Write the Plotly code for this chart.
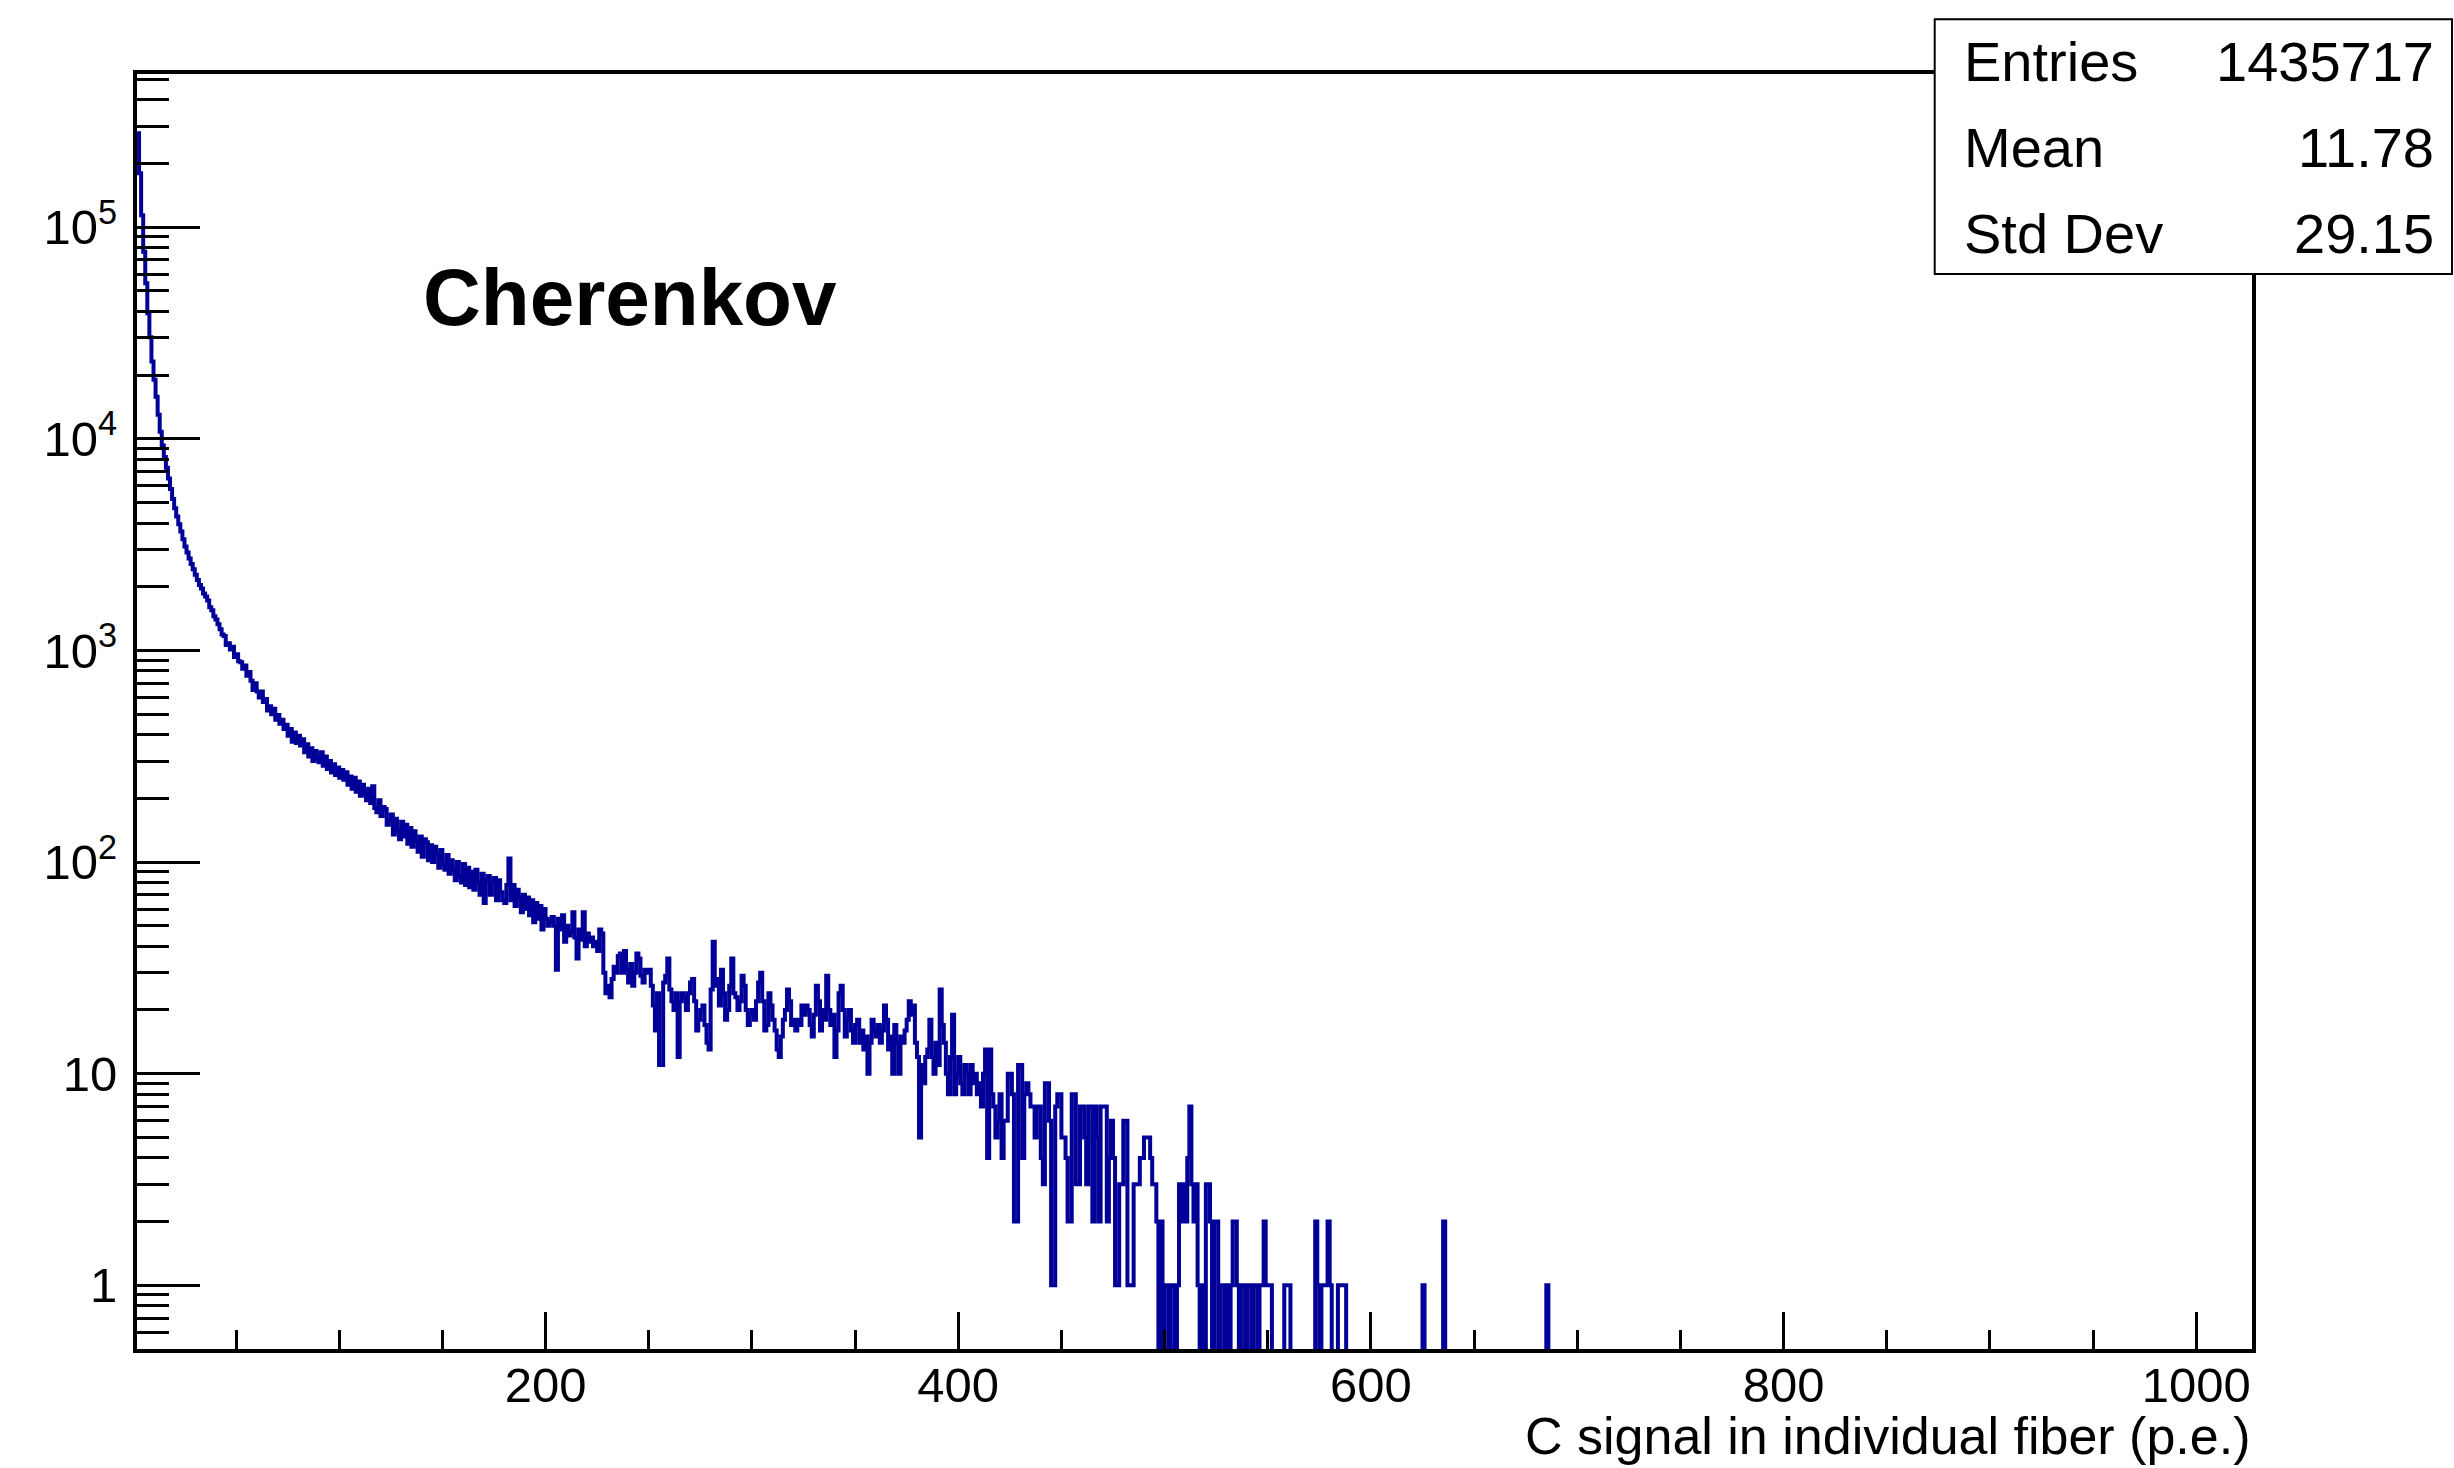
import numpy as np
import plotly.graph_objects as go

# ---------------- data (histogram of 1-p.e.-wide bins, lower edges 2 .. 1026) ----------------
x_min, x_max = 2, 1027
bin_width = 1

counts_a = [278000, 180000, 114000, 76600, 54300, 39200, 30200, 23200, 19000, 15800,
            13000, 10800, 9300, 8200, 7300, 6500, 5800, 5200, 4700, 4300,
            3950, 3650, 3350, 3100, 2900, 2720, 2560, 2420, 2280, 2150,
            2040, 1960, 1860, 1800, 1720, 1600, 1550, 1450, 1400, 1330]          # bins 2-41
counts_b = [1260, 1190, 1170, 1060, 1080, 1010, 1040, 930, 960, 890,
            880, 820, 850, 760, 790, 720, 650, 700, 640, 600,
            640, 570, 590, 520, 545, 500, 530, 470, 495, 450,
            470, 425, 445, 395, 425, 370, 410, 365, 395, 355,
            380, 330, 360, 315, 345, 300, 335, 310, 296, 330,
            285, 315, 275, 300, 265, 290, 258, 280, 250, 272,
            245, 266, 232, 254, 222, 250, 215, 240, 206, 232,
            212, 196, 222, 190, 228, 180, 172, 196, 165, 182]                      # bins 42-121
counts_c = [178, 150, 158, 168, 135, 160, 142, 128, 155, 132,
            150, 122, 145, 118, 140, 126, 112, 132, 106, 128,
            124, 102, 120, 100, 118, 108, 94, 114, 98, 92,
            108, 88, 102, 92, 82, 100, 86, 80, 98, 78,
            94, 76, 90, 74, 92, 80, 70, 88, 64, 82,
            86, 70, 80, 84, 66, 82, 72, 66, 64, 78,
            104, 66, 78, 62, 74, 68, 58, 70, 60, 68,
            56, 66, 52, 64, 54, 62, 48, 60, 54, 50]                                # bins 122-201
counts_d = [52, 55, 50, 31, 54, 48, 56, 42, 50, 45,
            47, 58, 44, 35, 48, 43, 58, 40, 46, 42,
            44, 40, 42, 38, 48, 46, 30, 24, 26, 23,
            28, 32, 30, 36, 37, 30, 38, 31, 27, 33,
            26, 30, 37, 35, 29, 27, 31, 30, 31, 26,
            21, 16, 24, 11, 11, 27, 29, 35, 25, 22,
            20, 24, 12, 22, 24, 23, 20, 24, 27, 28,
            22, 16, 18, 20, 21, 17, 14, 13, 25, 42,
            26, 28, 21, 31, 24, 18, 20, 26, 35, 24,
            23, 20, 22, 29, 26, 20, 17, 19, 20, 18,
            22, 27, 30, 22, 16, 17, 24, 21, 18, 16,
            13, 12, 15, 18, 20, 25, 22, 17, 18, 16]                                # bins 202-321
counts_e = [18, 17, 21, 19, 21, 20, 17, 15, 19, 26,
            22, 16, 20, 18, 29, 20, 17, 19, 12, 16,
            24, 26, 20, 15, 18, 20, 16, 14, 17, 18,
            14, 16, 13, 15, 10, 14, 18, 16, 15, 17,
            14, 16, 21, 18, 13, 15, 10, 17, 14, 10,
            15, 14, 16, 18, 22, 19, 21, 14, 12, 5,
            11, 9, 12, 13, 18, 12, 10, 14, 11, 25,
            17, 14, 10, 8, 12, 19, 8, 10, 12, 9,
            8, 11, 10, 8, 11, 9, 10, 8, 9, 7,
            10, 13, 4, 13, 8, 7, 5, 6]                                             # bins 322-419
counts_f = [8, 4, 6, 6, 10, 10, 8, 2, 2, 11,
            11, 4, 8, 9, 8, 7, 7, 5, 7, 7,
            4, 3, 9, 9, 6, 1, 1, 7, 8, 8,
            5, 5, 4, 2, 2, 8, 8, 3, 3, 7,
            7, 5, 3, 7, 7, 2, 7, 5, 2, 7,
            7, 7, 2, 4, 6, 4, 1, 1, 3, 3,
            6, 6, 1, 1, 1, 3, 3, 3, 4, 4,
            5, 5, 5, 4, 3, 3, 2, 0, 2, 0,
            1, 1, 0, 1, 1, 0, 1, 3, 2, 3,
            2, 4, 7, 3, 2, 3, 1, 0, 1, 0]                                          # bins 420-519
counts_g = [3, 3, 2, 0, 2, 2, 0, 1, 1, 0,
            1, 0, 1, 2, 2, 1, 0, 1, 1, 0,
            1, 1, 0, 1, 1, 0, 1, 1, 2, 1,
            1, 1, 0, 0, 0, 0, 0, 0, 1, 1,
            1, 0, 0, 0, 0, 0, 0, 0, 0, 0,
            0, 0, 0, 2, 1, 0, 1, 1, 1, 2,
            1, 0, 0, 0, 1, 1, 1, 1, 0, 0]                                          # bins 520-589
block_starts = [2, 42, 122, 202, 322, 420, 520]
isolated_bins = [625, 635, 685]
isolated_counts = [1, 2, 1]

stat_labels = ["Entries", "Mean", "Std Dev"]
stat_values = ["1435717", "11.78", "29.15"]
x_tick_vals = [200, 400, 600, 800, 1000]
y_tick_vals = [1, 10, 100, 1000, 10000, 100000]
y_tick_text = ["1", "10", "10<sup>2</sup>", "10<sup>3</sup>", "10<sup>4</sup>", "10<sup>5</sup>"]
title_text = "Cherenkov"
x_title = "C signal in individual fiber (p.e.)"

# ---------------- build histogram ----------------
edges = np.arange(x_min, x_max + bin_width, bin_width)
n_bins = len(edges) - 1
counts = np.zeros(n_bins)
for start, block in zip(block_starts, [counts_a, counts_b, counts_c, counts_d, counts_e, counts_f, counts_g]):
    i0 = (start - x_min) // bin_width
    counts[i0:i0 + len(block)] = block
for b, c in zip(isolated_bins, isolated_counts):
    counts[(b - x_min) // bin_width] = c

floor = 1e-2  # empty bins drop below the frame (log axis)
y_draw = np.where(counts > 0, counts, floor)
x_step = np.append(edges[:-1], edges[-1])
y_step = np.append(y_draw, y_draw[-1])

# ---------------- figure ----------------
W, H = 2454, 1468
L, R, T, B = 137, 202, 74, 119
pw, ph = W - L - R, H - T - B


def px(xp):
    return (xp - L) / pw


def py(yp):
    return (H - B - yp) / ph


FONT = "Liberation Sans, Arial, Helvetica, sans-serif"

fig = go.Figure()
fig.add_trace(go.Scatter(x=x_step, y=y_step, mode="lines",
                         line=dict(color="#000099", width=4, shape="hv"),
                         hoverinfo="skip", showlegend=False))

x_minor = [v for v in range(50, 1001, 50) if v % 200 != 0]
y_minor = []
for d in range(-1, 6):
    for m in range(2, 10):
        val = m * 10.0 ** d
        if 0.5 < val < 5.3e5:
            y_minor.append(val)

fig.update_layout(
    width=W, height=H,
    margin=dict(l=L, r=R, t=T, b=B, pad=0),
    paper_bgcolor="white", plot_bgcolor="white",
    font=dict(family=FONT, color="black"),
    showlegend=False,
    xaxis=dict(range=[x_min, x_max], showgrid=False, zeroline=False,
               showline=True, linecolor="black", linewidth=4, mirror=True,
               ticks="inside", ticklen=37, tickwidth=3, tickcolor="black",
               tickmode="array", tickvals=x_tick_vals,
               tickfont=dict(size=49, family=FONT, color="black"),
               ticklabelstandoff=-10,
               minor=dict(tickmode="array", tickvals=x_minor, ticks="inside",
                          ticklen=19, tickwidth=3, tickcolor="black")),
    yaxis=dict(type="log", range=[np.log10(0.5), 5.724], showgrid=False, zeroline=False,
               showline=True, linecolor="black", linewidth=4, mirror=True,
               ticks="inside", ticklen=63, tickwidth=3, tickcolor="black",
               tickmode="array", tickvals=y_tick_vals, ticktext=y_tick_text,
               tickfont=dict(size=49, family=FONT, color="black"),
               ticklabelstandoff=6,
               minor=dict(tickmode="array", tickvals=y_minor, ticks="inside",
                          ticklen=32, tickwidth=3, tickcolor="black")),
)

# stats box
fig.add_shape(type="rect", xref="paper", yref="paper",
              x0=px(1934.7), x1=px(2452), y0=py(274), y1=py(19.3),
              line=dict(color="black", width=2), fillcolor="white", layer="above")
row_centers = [61.5, 148.0, 233.0]
for lab, val, yc in zip(stat_labels, stat_values, row_centers):
    fig.add_annotation(x=px(1962), y=py(yc), xref="paper", yref="paper",
                       text=lab, showarrow=False, xanchor="left", yanchor="middle",
                       font=dict(size=56, family=FONT, color="black"))
    fig.add_annotation(x=px(2436), y=py(yc), xref="paper", yref="paper",
                       text=val, showarrow=False, xanchor="right", yanchor="middle",
                       font=dict(size=56, family=FONT, color="black"))

fig.add_annotation(x=px(421), y=py(297), xref="paper", yref="paper",
                   text="<b>%s</b>" % title_text, showarrow=False,
                   xanchor="left", yanchor="middle",
                   font=dict(size=80, family=FONT, color="black"))

fig.add_annotation(x=px(2252), y=py(1436), xref="paper", yref="paper",
                   text=x_title, showarrow=False, xanchor="right", yanchor="middle",
                   font=dict(size=52, family=FONT, color="black"))

fig.write_html("out.html")
